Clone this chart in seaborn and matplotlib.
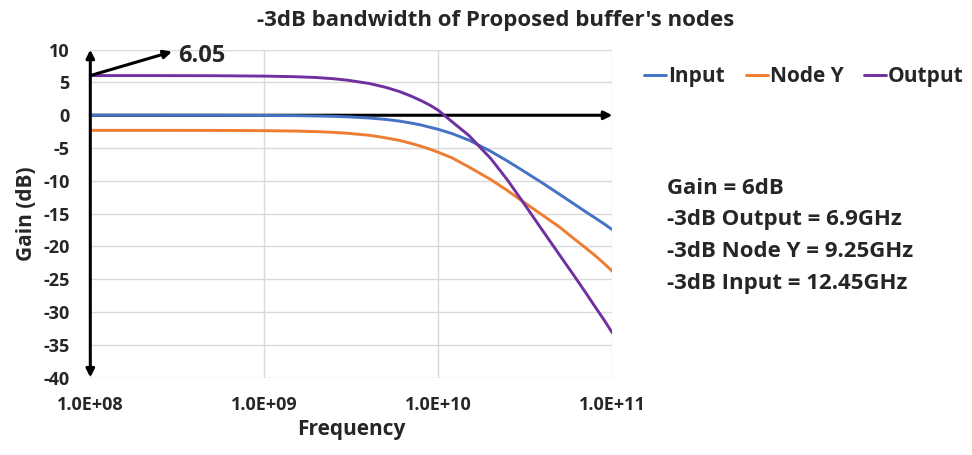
import matplotlib
matplotlib.use("Agg")
import matplotlib.pyplot as plt
import seaborn as sns
import pandas as pd

# Frequency sweep (Hz) and gain (dB) at each node
freq_ghz = [0.1, 0.2, 0.5, 1, 1.5, 2, 2.5, 3, 4, 5, 6, 7, 8, 9, 10, 12, 15,
            20, 25, 30, 40, 50, 60, 70, 80, 90, 100]
gain_input = [0.0, 0.0, -0.01, -0.03, -0.06, -0.11, -0.17, -0.24, -0.42, -0.64,
              -0.9, -1.2, -1.5, -1.85, -2.15, -2.8, -3.8, -5.5, -7.0, -8.3,
              -10.4, -12.1, -13.5, -14.7, -15.7, -16.6, -17.45]
gain_node_y = [-2.3, -2.3, -2.31, -2.35, -2.41, -2.5, -2.61, -2.75, -3.05,
               -3.45, -3.85, -4.3, -4.75, -5.2, -5.65, -6.5, -7.9, -9.8, -11.5,
               -13.0, -15.3, -17.1, -18.8, -20.2, -21.45, -22.65, -23.8]
gain_output = [6.05, 6.05, 6.03, 5.97, 5.88, 5.75, 5.57, 5.35, 4.85, 4.25, 3.6,
               2.9, 2.2, 1.5, 0.75, -1.0, -3.1, -6.6, -9.9, -12.9, -17.7,
               -21.4, -24.4, -27.0, -29.3, -31.3, -33.2]

series_names = ["Input", "Node Y", "Output"]
series_colors = ["#4472C4", "#ED7D31", "#7030A0"]
dc_gain = 6.05
notes = ["Gain = 6dB", "-3dB Output = 6.9GHz", "-3dB Node Y = 9.25GHz",
         "-3dB Input = 12.45GHz"]

frames = []
for name, vals in zip(series_names, [gain_input, gain_node_y, gain_output]):
    frames.append(pd.DataFrame({"Frequency": [f * 1e9 for f in freq_ghz],
                                "Gain": vals, "Node": name}))
df = pd.concat(frames, ignore_index=True)

sns.set_theme(style="white")
plt.rcParams["font.family"] = ["Open Sans", "DejaVu Sans"]
plt.rcParams["axes.unicode_minus"] = False

fig = plt.figure(figsize=(9.72, 4.55), dpi=100)
ax = fig.add_axes([0.0929, 0.1703, 0.5371, 0.7205])

sns.lineplot(data=df, x="Frequency", y="Gain", hue="Node",
             palette=dict(zip(series_names, series_colors)), linewidth=2.1,
             ax=ax, zorder=3)

ax.set_xscale("log")
ax.set_xlim(1e8, 1e11)
ax.set_ylim(-40, 10)
ax.set_yticks(range(-40, 11, 5))
ax.set_xticks([1e8, 1e9, 1e10, 1e11])
ax.set_xticklabels(["1.0E+08", "1.0E+09", "1.0E+10", "1.0E+11"])
ax.minorticks_off()
ax.tick_params(axis="both", length=0, labelsize=13)
ax.tick_params(axis="x", pad=13)
ax.tick_params(axis="y", pad=15)
for lab in ax.get_xticklabels() + ax.get_yticklabels():
    lab.set_fontweight("bold")
ax.grid(True, color="#d9d9d9", linewidth=1.0)
for s in ax.spines.values():
    s.set_visible(False)

ax.set_xlabel("Frequency", fontsize=15, fontweight="bold", labelpad=4)
ax.set_ylabel("Gain (dB)", fontsize=15, fontweight="bold", labelpad=4.5)
fig.text(0.51, 0.955, "-3dB bandwidth of Proposed buffer's nodes",
         ha="center", va="center", fontsize=16, fontweight="bold")

# Axis arrows
ax.annotate("", xy=(1e8, 10), xytext=(1e8, -40),
            arrowprops=dict(arrowstyle="<|-|>", color="black", lw=2.2,
                            mutation_scale=12, shrinkA=0, shrinkB=0),
            annotation_clip=False, zorder=4)
ax.annotate("", xy=(1e11, 0), xytext=(1e8, 0),
            arrowprops=dict(arrowstyle="-|>", color="black", lw=2.2,
                            mutation_scale=12, shrinkA=0, shrinkB=0),
            annotation_clip=False, zorder=2)

# DC gain marker
ax.annotate("", xy=(2.95e8, 9.7), xytext=(1e8, dc_gain),
            arrowprops=dict(arrowstyle="-|>", color="black", lw=2.2,
                            mutation_scale=12, shrinkA=0, shrinkB=0),
            annotation_clip=False, zorder=4)
ax.text(3.2e8, 9.1, f"{dc_gain:.2f}", ha="left", va="center", fontsize=17,
        fontweight="bold")

handles, labels = ax.get_legend_handles_labels()
ax.legend(handles, labels, loc="center left", bbox_to_anchor=(1.025, 0.917),
          ncol=3, frameon=False, handlelength=1.05, handletextpad=0.1,
          columnspacing=1.0, prop={"weight": "bold", "size": 15})

ypos = [0.585, 0.518, 0.448, 0.378]
for t, y in zip(notes, ypos):
    fig.text(0.686, y, t, ha="left", va="center", fontsize=16,
             fontweight="bold")

fig.savefig("out.png", dpi=100)
